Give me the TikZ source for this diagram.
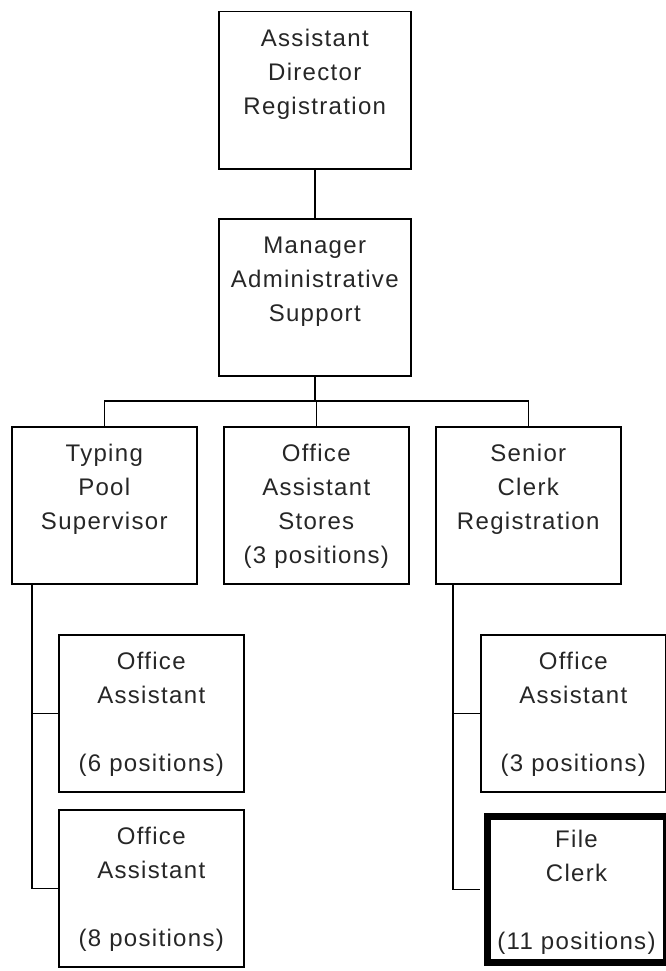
\documentclass[tikz,border=0pt]{standalone}
\usepackage{fontspec}
\setmainfont{Liberation Sans}[LetterSpace=5.5]
\usetikzlibrary{positioning}

\begin{document}
\begin{tikzpicture}[
    x=1pt, y=-1pt,
    box/.style={rectangle, draw, line width=1.5pt, anchor=north west, inner sep=0pt,
        text width=185pt, text height=35pt, text depth=122pt, align=center,
        font=\fontsize{24}{34}\selectfont, text=black!85},
    wide/.style={box, text width=192pt},
    heavy/.style={box, line width=7pt, text width=179pt, text height=31.5pt, text depth=115pt},
    link/.style={line width=1.5pt}
]
\useasboundingbox (0,0) rectangle (666,971);

% Nodes
\node[wide] (director) at (218,11) {Assistant\\Director\\Registration};
\node[wide] (manager) at (218,218) {Manager\\Administrative\\Support};
\node[box] (typing) at (11,426) {Typing\\Pool\\Supervisor};
\node[box] (stores) at (223,426) {Office\\Assistant\\Stores\\(3 positions)};
\node[box] (senior) at (435,426) {Senior\\Clerk\\Registration};
\node[box] (assistsix) at (58,634) {Office\\Assistant\\[34pt](6 positions)};
\node[box] (assisteight) at (58,809) {Office\\Assistant\\[34pt](8 positions)};
\node[box] (assistthree) at (480,634) {Office\\Assistant\\[34pt](3 positions)};
\node[heavy] (fileclerk) at (483.5,812.5) {File\\Clerk\\[34pt](11 positions)};
\coordinate (bar) at (manager.south |- 0,401);

% Lines
\draw[link] (director) -- (manager);
\draw[link] (manager.south) -- (bar);
\draw[link] (typing.north) |- (bar) -| (senior.north);
\draw[link] (stores.north) -- (stores.north |- bar);
\draw[link] ([xshift=21pt]typing.south west) |- (assistsix.west);
\draw[link] ([xshift=21pt]typing.south west) |- (assisteight.west);
\draw[link] ([xshift=18pt]senior.south west) |- (assistthree.west);
\draw[link] ([xshift=18pt]senior.south west) |- ([xshift=-3.5pt]fileclerk.west);

\end{tikzpicture}
\end{document}
